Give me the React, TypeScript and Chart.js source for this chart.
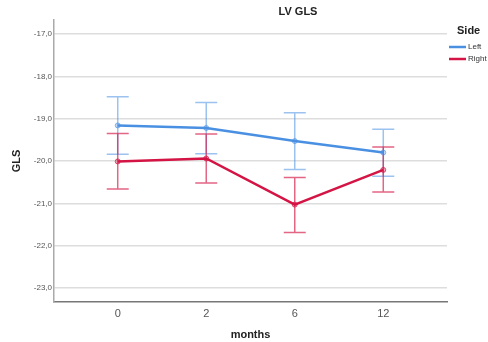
import React, { useEffect, useRef } from "react";
import { Chart, registerables } from "chart.js";

Chart.register(...registerables);

const months = ["0", "2", "6", "12"];
const leftMean = [-19.16, -19.22, -19.53, -19.8];
const leftUpper = [-18.48, -18.62, -18.86, -19.25];
const leftLower = [-19.84, -19.83, -20.2, -20.36];
const rightMean = [-20.01, -19.94, -21.03, -20.21];
const rightUpper = [-19.35, -19.36, -20.39, -19.67];
const rightLower = [-20.66, -20.52, -21.69, -20.73];
const yTicks = [-23, -22, -21, -20, -19, -18, -17];

const BLUE = "rgb(74,144,226)";
const BLUE_EB = "rgba(74,144,226,0.55)";
const RED = "rgb(212,20,68)";
const RED_EB = "rgba(212,20,68,0.65)";
const FONT = "'Liberation Sans', Arial, sans-serif";

const errorBars = {
  id: "errorBars",
  beforeDatasetsDraw(chart: any) {
    const ctx = chart.ctx;
    const xs = chart.scales.x;
    const ys = chart.scales.y;
    const sets = [
      { up: leftUpper, lo: leftLower, c: BLUE_EB },
      { up: rightUpper, lo: rightLower, c: RED_EB },
    ];
    ctx.save();
    ctx.lineWidth = 1.5;
    sets.forEach((s) => {
      ctx.strokeStyle = s.c;
      s.up.forEach((u, i) => {
        const x = xs.getPixelForValue(i);
        const yu = ys.getPixelForValue(u);
        const yl = ys.getPixelForValue(s.lo[i]);
        ctx.beginPath();
        ctx.moveTo(x, yu);
        ctx.lineTo(x, yl);
        ctx.moveTo(x - 11, yu);
        ctx.lineTo(x + 11, yu);
        ctx.moveTo(x - 11, yl);
        ctx.lineTo(x + 11, yl);
        ctx.stroke();
      });
    });
    ctx.restore();
  },
  afterDraw(chart: any) {
    const ctx = chart.ctx;
    ctx.save();
    ctx.fillStyle = "#222";
    ctx.font = `bold 11px ${FONT}`;
    ctx.textAlign = "center";
    ctx.textBaseline = "middle";
    ctx.fillText("LV GLS", 298, 12);
    ctx.textAlign = "left";
    ctx.fillText("Side", 457, 31);
    ctx.font = `8px ${FONT}`;
    ctx.fillStyle = "#333";
    ctx.lineWidth = 2.5;
    ctx.strokeStyle = BLUE;
    ctx.beginPath();
    ctx.moveTo(449, 47);
    ctx.lineTo(466, 47);
    ctx.stroke();
    ctx.fillText("Left", 468, 47);
    ctx.strokeStyle = RED;
    ctx.beginPath();
    ctx.moveTo(449, 59);
    ctx.lineTo(466, 59);
    ctx.stroke();
    ctx.fillText("Right", 468, 59);
    ctx.restore();
  },
};

export default function App() {
  const ref = useRef<HTMLCanvasElement>(null);
  useEffect(() => {
    document.body.style.margin = "0";
    const chart = new Chart(ref.current!, {
      type: "line",
      data: {
        datasets: [
          {
            label: "Left",
            data: leftMean.map((v, i) => ({ x: i, y: v })),
            borderColor: BLUE,
            backgroundColor: "rgba(74,144,226,0.5)",
            borderWidth: 2.5,
            pointRadius: 2.5,
            pointBorderWidth: 1,
            pointBorderColor: "rgba(74,144,226,0.6)",
            pointBackgroundColor: "rgba(74,144,226,0.35)",
          },
          {
            label: "Right",
            data: rightMean.map((v, i) => ({ x: i, y: v })),
            borderColor: RED,
            backgroundColor: "rgba(212,20,68,0.5)",
            borderWidth: 2.5,
            pointRadius: 2.5,
            pointBorderWidth: 1,
            pointBorderColor: "rgba(212,20,68,0.7)",
            pointBackgroundColor: "rgba(212,20,68,0.35)",
          },
        ],
      },
      options: {
        animation: false,
        responsive: false,
        layout: { padding: { top: 20, right: 41, left: 0, bottom: 0 } },
        plugins: { legend: { display: false }, tooltip: { enabled: false } },
        scales: {
          x: {
            type: "linear",
            min: -0.72,
            max: 3.72,
            afterBuildTicks: (s: any) => {
              s.ticks = months.map((_, i) => ({ value: i }));
            },
            afterFit: (s: any) => {
              s.height = 40;
            },
            grid: { display: false, drawTicks: false },
            border: { color: "#777", width: 1.5 },
            ticks: {
              callback: (v: any) => months[v as number] ?? "",
              color: "#555",
              font: { family: FONT, size: 11 },
              padding: 5,
            },
            title: {
              display: true,
              text: "months",
              color: "#222",
              font: { family: FONT, size: 11, weight: "bold" },
              padding: { top: 7, bottom: 0 },
            },
          },
          y: {
            type: "linear",
            min: -23.33,
            max: -16.67,
            afterBuildTicks: (s: any) => {
              s.ticks = yTicks.map((v) => ({ value: v }));
            },
            afterFit: (s: any) => {
              s.width = 54;
            },
            grid: { color: "#ddd", lineWidth: 1.5, drawTicks: false },
            border: { color: "#aaa", width: 1.5 },
            ticks: {
              callback: (v: any) => Number(v).toFixed(1).replace(".", ","),
              color: "#555",
              font: { family: FONT, size: 8 },
              padding: 2,
            },
            title: {
              display: true,
              text: "GLS",
              color: "#222",
              font: { family: FONT, size: 11, weight: "bold" },
              padding: { top: 10, bottom: 0 },
            },
          },
        },
      },
      plugins: [errorBars],
    } as any);
    return () => chart.destroy();
  }, []);
  return (
    <div style={{ position: "absolute", left: 0, top: 0, width: 488, height: 342 }}>
      <canvas ref={ref} width={488} height={342} style={{ width: 488, height: 342 }} />
    </div>
  );
}
